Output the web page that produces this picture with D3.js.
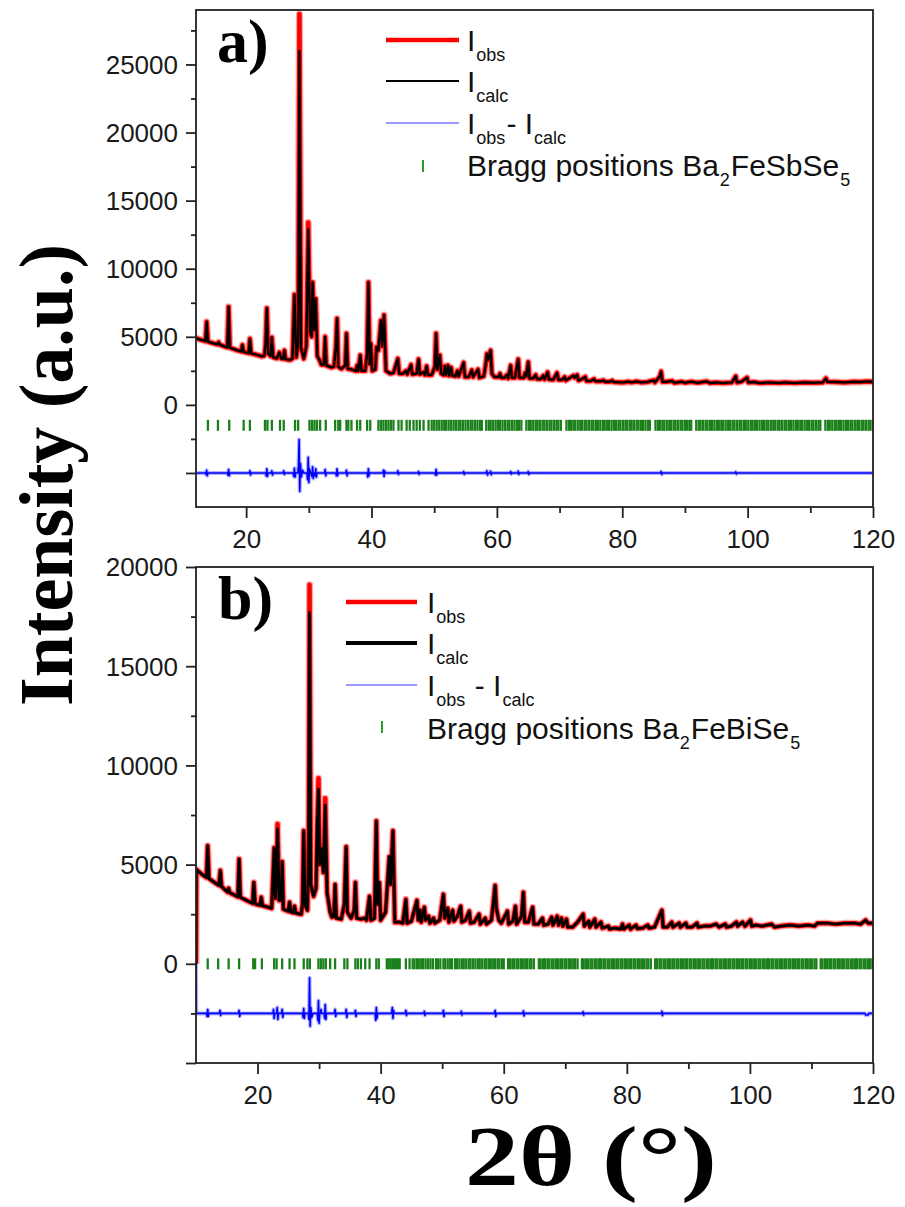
<!DOCTYPE html>
<html>
<head>
<meta charset="utf-8">
<script src="https://cdn.jsdelivr.net/npm/d3@7"></script>
<style>
  html, body { margin: 0; padding: 0; background: #fff; }
  svg text { white-space: pre; }
</style>
</head>
<body>
<div id="chart-container"></div>
<script>
// ---- panel a) Ba2FeSbSe5 : [2theta, intensity]
const obsA = [[12.0,4900],[12.8,4780],[13.5,4680],[13.7,6100],[13.9,4650],[14.8,4520],[15.4,4450],[15.6,4600],[15.8,4420],[16.6,4280],[17.0,4230],[17.2,7200],[17.4,4200],[18.5,4020],[19.2,3930],[19.4,4400],[19.6,3900],[20.4,3800],[20.6,4850],[20.8,3780],[21.5,3700],[22.5,3570],[22.9,3600],[23.1,4400],[23.3,7100],[23.5,3800],[23.9,3600],[24.1,4950],[24.3,3500],[24.9,3420],[25.3,3850],[25.6,3400],[25.9,3380],[26.1,4000],[26.3,3350],[27.0,3300],[27.4,3400],[27.7,8100],[28.0,3500],[28.3,4500],[28.5,28700],[28.75,4200],[29.2,3400],[29.6,4300],[29.9,13400],[30.2,5400],[30.45,5000],[30.6,9000],[30.85,5500],[31.1,7800],[31.35,3600],[31.8,3200],[32.0,2950],[32.4,2950],[32.6,5000],[32.8,2900],[33.6,2750],[34.0,2800],[34.3,4200],[34.5,6350],[34.7,2800],[35.2,2650],[35.8,2900],[36.0,5250],[36.2,2650],[36.8,2600],[37.5,2500],[37.7,2900],[37.9,2500],[38.2,3650],[38.4,2500],[39.0,2500],[39.3,3800],[39.5,9000],[39.7,3000],[39.9,4500],[40.1,2500],[40.6,2600],[40.8,4250],[41.1,4000],[41.5,6200],[41.7,4300],[42.0,6600],[42.3,2500],[43.0,2300],[43.5,2350],[44.2,3400],[44.4,2300],[45.0,2300],[45.5,2500],[45.7,2250],[46.3,2950],[46.5,2250],[47.2,2300],[47.5,3350],[47.7,2250],[48.3,2400],[48.5,2200],[48.8,2850],[49.0,2200],[49.6,2200],[50.1,2800],[50.3,5250],[50.5,2600],[50.9,3650],[51.1,2300],[51.5,2200],[51.7,2850],[51.9,2200],[52.2,2900],[52.4,2150],[52.7,2750],[52.9,2150],[53.4,2100],[53.7,2500],[53.9,2100],[54.7,3100],[54.9,2050],[55.5,2050],[56.0,2550],[56.2,2050],[57.0,2600],[57.2,2000],[57.9,2100],[58.2,2900],[58.4,3750],[58.6,3300],[59.0,4000],[59.2,2300],[59.6,2050],[60.3,2050],[60.5,2300],[60.7,2000],[61.2,2000],[61.6,2200],[61.8,1950],[62.2,2900],[62.4,2000],[62.9,2000],[63.4,3350],[63.6,2000],[64.3,2000],[64.5,2350],[64.7,2100],[65.0,3150],[65.2,1950],[65.8,1950],[66.2,2200],[66.4,1900],[67.0,1900],[67.4,2150],[67.6,1880],[68.1,2400],[68.3,1880],[69.0,1850],[69.6,2350],[69.8,1850],[70.4,1850],[70.8,2050],[71.0,1800],[72.2,2150],[72.4,2000],[72.8,2200],[73.0,1800],[73.6,1900],[74.1,2050],[74.3,1750],[75.0,1760],[75.5,1900],[75.7,1740],[76.5,1730],[77.0,1800],[77.2,1700],[78.0,1700],[78.4,1780],[78.6,1680],[80.0,1650],[81.0,1700],[81.5,1650],[82.3,1720],[83.0,1650],[84.0,1680],[85.0,1800],[85.2,1650],[86.0,2100],[86.2,2450],[86.4,1700],[87.0,1700],[88.0,1750],[88.3,1620],[89.5,1700],[90.0,1620],[91.0,1700],[92.0,1620],[93.5,1720],[94.0,1600],[95.0,1650],[96.0,1600],[97.5,1650],[98.1,2100],[98.3,1650],[99.0,1700],[99.9,2000],[100.1,1650],[101.0,1680],[102.0,1600],[103.5,1650],[105.0,1600],[106.0,1650],[107.5,1600],[109.0,1650],[110.5,1620],[112.0,1650],[112.5,1950],[112.7,1700],[114.0,1680],[115.5,1650],[117.0,1700],[118.0,1680],[119.0,1720],[120.0,1700]];
const calcTopsA = [[28.5,26000],[29.9,12900]];
const diffA = [[12,0],[13.5,0],[13.6,-100],[13.7,200],[13.8,-200],[13.9,0],[17.0,0],[17.1,-150],[17.2,250],[17.3,-200],[17.4,0],[20.5,0],[20.6,150],[20.7,-150],[20.8,0],[23.1,0],[23.2,-200],[23.3,300],[23.4,-250],[23.5,0],[24.0,0],[24.1,150],[24.2,-150],[24.3,0],[25.9,0],[26.0,150],[26.1,-100],[26.2,0],[27.5,0],[27.6,-250],[27.7,350],[27.8,-300],[27.9,0],[28.25,0],[28.35,500],[28.45,2450],[28.55,-1350],[28.65,700],[28.8,-300],[29.0,200],[29.2,0],[29.7,0],[29.8,-500],[29.9,1150],[30.0,-700],[30.1,300],[30.3,0],[30.5,-250],[30.6,450],[30.7,-400],[30.85,0],[31.0,-200],[31.1,300],[31.2,-300],[31.3,0],[32.5,0],[32.6,250],[32.7,-200],[32.8,0],[34.3,0],[34.4,-200],[34.5,300],[34.6,-200],[34.7,0],[35.9,0],[36.0,200],[36.1,-200],[36.2,0],[39.3,0],[39.4,-300],[39.5,300],[39.6,-200],[39.7,0],[41.8,0],[41.9,200],[42.0,-250],[42.1,150],[42.2,0],[44.1,0],[44.2,150],[44.3,-100],[44.4,0],[47.4,0],[47.5,100],[47.6,-100],[47.7,0],[50.1,0],[50.2,-150],[50.3,250],[50.4,-150],[50.5,0],[54.6,0],[54.7,100],[54.8,-100],[54.9,0],[58.3,0],[58.4,150],[58.5,-150],[58.6,0],[58.9,0],[59.0,120],[59.1,-120],[59.2,0],[62.1,0],[62.2,100],[62.3,-80],[62.4,0],[63.3,0],[63.4,120],[63.5,-100],[63.6,0],[64.9,0],[65.0,100],[65.1,-100],[65.2,0],[86.1,0],[86.2,100],[86.3,-100],[86.4,0],[98.0,0],[98.1,80],[98.2,-80],[98.3,0],[120,0]];
const diffOffsetA = -5000, braggLevelA = -1500;
const braggA = [13.9,15.5,17.3,19.6,20.6,23.0,23.4,24.1,25.4,26.0,27.8,28.3,30.1,30.5,30.9,31.3,31.8,32.7,34.2,34.7,35.0,36.0,36.3,36.8,37.7,38.2,39.3,39.8,41.1,41.5,41.9,42.3,42.7,43.1,43.5,44.3,44.8,45.6,46.1,46.7,47.2,47.7,48.3,49.1,
  49.6,50.0,50.4,50.8,51.2,51.6,51.9,52.3,52.7,53.1,53.5,53.9,54.2,54.6,55.0,55.4,55.8,56.1,56.5,56.9,57.3,57.6,58.3,58.7,59.0,59.4,59.8,60.2,60.5,60.9,61.3,61.7,62.0,62.4,62.8,63.2,63.5,63.9,
  64.7,65.1,65.4,65.8,66.2,66.5,66.9,67.3,67.6,68.0,68.4,68.7,69.1,69.5,69.8,70.2,71.1,71.5,71.8,72.2,72.5,72.9,73.3,73.6,74.0,74.3,74.7,75.1,75.4,75.8,76.1,76.5,76.9,77.2,77.6,77.9,78.3,78.7,79.0,79.4,79.7,80.1,80.5,80.8,81.2,81.5,81.9,82.3,82.6,83.0,83.3,83.7,84.1,84.4,
  85.3,85.7,86.0,86.4,86.7,87.1,87.5,87.8,88.2,88.5,88.9,89.3,89.6,90.0,90.3,90.7,91.0,91.8,92.2,92.5,92.9,93.3,93.6,94.0,94.3,94.7,95.1,95.4,95.8,96.1,96.5,96.9,97.2,97.6,97.9,98.3,98.7,99.0,99.4,99.7,
  100.1,100.5,100.8,101.2,101.5,101.9,102.3,102.6,103.0,103.3,103.7,104.1,104.4,104.8,105.1,105.5,105.9,106.2,106.6,106.9,107.3,107.7,108.0,108.4,108.7,109.1,109.5,109.8,110.2,110.5,110.9,111.3,111.6,
  112.4,112.8,113.1,113.5,113.9,114.2,114.6,114.9,115.3,115.7,116.0,116.4,116.7,117.1,117.5,117.8,118.2,118.5,118.9,119.3,119.6,120.0];
const yMajorA = [-5000,0,5000,10000,15000,20000,25000];
const yLabelsA = [0,5000,10000,15000,20000,25000];
const phaseA = ["Ba", "2", "FeSbSe", "5"];

// ---- panel b) Ba2FeBiSe5
const obsB = [[10.0,0],[10.05,4750],[11.0,4500],[11.7,4350],[11.9,5950],[12.1,4300],[13.0,4100],[13.75,3950],[13.95,4700],[14.15,3900],[15.1,3620],[15.3,3800],[15.5,3580],[16.8,3380],[17.0,5280],[17.2,3350],[18.5,3150],[19.2,3050],[19.4,4100],[19.6,3020],[20.4,2950],[20.6,3350],[20.8,2930],[22.3,2800],[22.6,5000],[22.7,5850],[22.9,3300],[23.1,4500],[23.25,7050],[23.5,3200],[23.8,3200],[24.0,5150],[24.2,2750],[25.0,2650],[25.2,3100],[25.4,2620],[25.8,2580],[26.0,2900],[26.2,2560],[27.1,2500],[27.3,3000],[27.5,6700],[27.7,3000],[28.1,2700],[28.3,5500],[28.45,19100],[28.65,4000],[29.1,3400],[29.5,3800],[29.7,7000],[29.9,9350],[30.1,5000],[30.4,5800],[30.7,4600],[31.0,8350],[31.3,3600],[31.8,2600],[32.1,2350],[32.4,2400],[32.6,4000],[32.8,2300],[33.6,2250],[34.1,3000],[34.4,5900],[34.6,2600],[35.2,2300],[35.7,2700],[35.9,4100],[36.1,2300],[36.8,2250],[37.4,2300],[37.7,2200],[38.2,3400],[38.4,2200],[39.0,2300],[39.3,7200],[39.5,3000],[39.8,4100],[40.0,2200],[40.8,2600],[41.4,5400],[41.6,4000],[42.0,6700],[42.3,2100],[43.0,2100],[43.6,2050],[44.1,3250],[44.3,2050],[45.0,2150],[45.9,3200],[46.1,2200],[46.4,2700],[46.6,2100],[47.1,2850],[47.3,2200],[47.8,2400],[48.0,2050],[48.6,2300],[48.8,2050],[49.6,2200],[50.2,3500],[50.4,2300],[50.9,2800],[51.1,2100],[51.7,2700],[51.9,2150],[52.5,2400],[53.0,2900],[53.2,2100],[53.8,2200],[54.4,2650],[54.6,2050],[55.2,2100],[56.0,2500],[56.2,2000],[57.0,2300],[57.2,2000],[58.0,2200],[58.3,3000],[58.6,3950],[58.8,2800],[59.2,2200],[59.6,2050],[60.6,2650],[60.8,2000],[61.5,2150],[61.9,2900],[62.1,2000],[62.9,2400],[63.2,3600],[63.4,2100],[64.0,2100],[64.7,2850],[64.9,2000],[65.6,2000],[66.3,2300],[66.5,1950],[67.2,2000],[67.8,2350],[68.0,1950],[68.7,2400],[68.9,1950],[69.4,2300],[69.6,1900],[70.2,2250],[70.4,1850],[71.2,1850],[72.0,2100],[72.9,2500],[73.1,1900],[73.8,2150],[74.0,1850],[74.8,2250],[75.0,1850],[75.8,2100],[76.0,1800],[77.0,1900],[77.2,1750],[78.0,1800],[79.0,1750],[79.3,2000],[79.5,1750],[80.4,1950],[80.6,1750],[81.5,1950],[81.7,1780],[82.6,1800],[83.4,1950],[83.6,1800],[84.5,1850],[85.7,2700],[85.9,1850],[86.6,1850],[87.3,2100],[87.5,1850],[88.5,2050],[88.7,1850],[89.6,2050],[89.8,1850],[90.6,1850],[91.4,2050],[91.6,1850],[92.5,1900],[93.5,1900],[94.5,2000],[95.0,1850],[96.0,2000],[96.2,1850],[97.0,1900],[97.8,2100],[98.0,1900],[98.8,2100],[99.2,1900],[100.1,2200],[100.3,1900],[101.0,1950],[102.0,1900],[103.5,2000],[104.0,1850],[105.0,1900],[106.5,1950],[108.0,1900],[109.5,1950],[110.5,1900],[111.0,2050],[112.5,2050],[114.0,2000],[115.5,2050],[117.0,2050],[118.0,2000],[118.8,2200],[119.2,2050],[120.0,2050]];
const calcTopsB = [[28.45,17700],[29.9,8800],[31.0,8000],[23.25,6800]];
const diffB = [[10,2500],[10.05,0],[11.7,0],[11.8,-150],[11.9,200],[12.0,-150],[12.1,0],[13.8,0],[13.9,150],[14.0,-100],[14.1,0],[16.9,0],[17.0,150],[17.1,-150],[17.2,0],[22.5,0],[22.6,200],[22.7,-250],[22.8,0],[23.1,0],[23.2,300],[23.3,-300],[23.4,0],[23.9,0],[24.0,200],[24.1,-200],[24.2,0],[27.3,0],[27.4,-200],[27.5,250],[27.6,-250],[27.7,0],[28.25,0],[28.35,-300],[28.45,1800],[28.55,-650],[28.65,300],[28.8,-200],[29.0,0],[29.7,0],[29.8,-350],[29.9,650],[30.0,-500],[30.1,0],[30.2,0],[30.3,200],[30.4,0],[30.8,0],[30.9,-250],[31.0,450],[31.1,-300],[31.2,0],[32.5,0],[32.6,200],[32.7,-150],[32.8,0],[34.3,0],[34.4,200],[34.5,-200],[34.6,0],[35.8,0],[35.9,150],[36.0,-150],[36.1,0],[39.1,0],[39.2,-350],[39.3,300],[39.4,-250],[39.5,0],[41.8,0],[41.9,300],[42.0,-250],[42.1,150],[42.2,0],[44.0,0],[44.1,150],[44.2,-100],[44.3,0],[47.0,0],[47.1,100],[47.2,-100],[47.3,0],[50.1,0],[50.2,150],[50.3,-150],[50.4,0],[53.0,0],[53.1,100],[53.2,-80],[53.3,0],[58.5,0],[58.6,150],[58.7,-150],[58.8,0],[63.1,0],[63.2,120],[63.3,-120],[63.4,0],[72.8,0],[72.9,80],[73.0,-80],[73.1,0],[85.6,0],[85.7,100],[85.8,-100],[85.9,0],[118.7,0],[118.8,-80],[119.2,-80],[119.3,0],[120,0]];
const diffOffsetB = -2500, braggLevelB = 0;
const braggB = [11.9,13.6,15.3,17.0,19.3,19.6,20.7,22.7,23.1,24.0,25.2,26.0,27.5,28.1,28.5,29.9,30.3,30.7,31.1,31.8,32.6,34.1,34.6,35.9,36.3,36.8,37.5,38.2,39.3,39.7,41.0,41.3,41.6,41.9,42.2,42.5,42.8,43.1,44.1,44.7,45.2,45.5,45.9,46.2,46.6,46.9,47.3,47.7,
  48.1,48.5,49.0,49.3,49.7,50.2,50.5,50.9,51.3,51.6,52.1,52.4,52.8,53.2,53.5,53.9,54.3,54.6,55.0,55.4,55.8,56.1,56.5,56.9,57.2,57.6,57.9,
  58.3,58.6,59.0,59.3,59.7,60.0,60.7,61.0,61.4,61.7,62.1,62.4,62.8,63.1,63.5,63.8,64.2,64.5,64.9,65.7,66.0,66.4,66.7,67.1,67.4,67.8,68.1,68.5,68.8,69.2,69.5,69.9,70.2,70.6,70.9,71.3,71.6,72.0,
  72.7,73.0,73.4,73.7,74.1,74.4,74.8,75.1,75.5,75.8,76.2,76.5,76.9,77.2,77.6,77.9,78.3,78.6,79.0,79.3,79.7,80.0,80.4,80.7,81.1,81.4,81.8,82.1,82.5,82.8,83.2,83.5,83.9,
  84.6,84.9,85.3,85.6,86.0,86.3,86.7,87.0,87.4,87.7,88.1,88.4,88.8,89.1,89.5,89.8,90.2,90.5,90.9,91.2,91.6,91.9,92.3,92.6,93.0,93.3,93.7,94.0,94.4,94.7,95.1,95.4,95.8,96.1,96.5,96.8,97.2,97.5,97.9,98.2,98.6,98.9,99.3,99.6,
  100.0,100.3,100.7,101.0,101.4,101.7,102.1,102.4,102.8,103.1,103.5,103.8,104.2,104.5,104.9,105.2,105.6,105.9,106.3,106.6,107.0,107.3,107.7,108.0,108.4,108.7,109.1,109.4,109.8,110.1,110.5,110.8,
  111.5,111.8,112.2,112.5,112.9,113.2,113.6,113.9,114.3,114.6,115.0,115.3,115.7,116.0,116.4,116.7,117.1,117.4,117.8,118.1,118.5,118.8,119.2,119.5,119.9];
const yMajorB = [-5000,0,5000,10000,15000,20000];
const yLabelsB = [0,5000,10000,15000,20000];
const phaseB = ["Ba", "2", "FeBiSe", "5"];

const xTicks = [20,40,60,80,100,120];

let W = 905, H = 1207,
    svg = d3.select("#chart-container").append("svg").attr("width", W).attr("height", H),
    sans = "'Liberation Sans', Arial, sans-serif",
    serif = "'Liberation Serif', 'Times New Roman', serif";

svg.append("rect").attr("width", W).attr("height", H).attr("fill", "#fff");

let panels = [
  { id: "a", obs: obsA, calcTops: calcTopsA, diff: diffA, diffOffset: diffOffsetA, bragg: braggA, braggLevel: braggLevelA,
    yMajor: yMajorA, yLabels: yLabelsA, phase: phaseA, xDomain: [12, 120], yDomain: [-7500, 29000],
    box: { left: 196, right: 873, top: 10, bottom: 507 }, calcWidth: 2.3,
    legend: { x0: 386, x1: 459, tx: 467, ys: [40, 81, 123], bragg: 166, braggX: 423, braggText: 176, dash: "- I", label: [217, 62], calcLegend: 2.2 } },
  { id: "b", obs: obsB, calcTops: calcTopsB, diff: diffB, diffOffset: diffOffsetB, bragg: braggB, braggLevel: braggLevelB,
    yMajor: yMajorB, yLabels: yLabelsB, phase: phaseB, xDomain: [10, 120], yDomain: [-5000, 20000],
    box: { left: 196, right: 873, top: 567, bottom: 1063 }, calcWidth: 2.8,
    legend: { x0: 346, x1: 417, tx: 427, ys: [602, 643, 685], bragg: 727, braggX: 382, braggText: 739, dash: " - I", label: [218, 619], calcLegend: 4 } }
];

panels.forEach(drawPanel);

// axis titles
svg.append("text")
  .attr("transform", "translate(72,475)rotate(-90)")
  .attr("text-anchor", "middle")
  .attr("font-family", serif).attr("font-weight", "bold").attr("font-size", 76)
  .attr("textLength", 462).attr("lengthAdjust", "spacingAndGlyphs")
  .attr("fill", "#000")
  .text("Intensity (a.u.)");

svg.append("text")
  .attr("x", 591).attr("y", 1185)
  .attr("text-anchor", "middle")
  .attr("font-family", serif).attr("font-weight", "bold").attr("font-size", 84)
  .attr("textLength", 252).attr("lengthAdjust", "spacingAndGlyphs")
  .attr("fill", "#000")
  .text("2θ (°)");

function drawPanel(p) {
  let b = p.box,
      x = d3.scaleLinear().domain(p.xDomain).range([b.left, b.right]),
      y = d3.scaleLinear().domain(p.yDomain).range([b.bottom, b.top]),
      g = svg.append("g"),
      clipId = "clip-" + p.id;

  g.append("clipPath").attr("id", clipId)
    .append("rect").attr("x", b.left).attr("y", b.top).attr("width", b.right - b.left).attr("height", b.bottom - b.top);

  let line = d3.line().x(d => x(d[0])).y(d => y(d[1]));
  let calc = p.obs.map(([t, v]) => {
    let o = p.calcTops.find(c => c[0] === t);
    return [t, o ? o[1] : v];
  });
  let diff = p.diff.map(([t, v]) => [t, v + p.diffOffset]);

  let plot = g.append("g").attr("clip-path", `url(#${clipId})`);

  // soft halo, then the observed curve (red), calculated (black) on top
  plot.append("path").datum(p.obs)
    .attr("fill", "none").attr("stroke", "#ff0000").attr("stroke-opacity", 0.35).attr("stroke-width", 7)
    .attr("stroke-linejoin", "round").attr("d", line);
  plot.append("path").datum(p.obs)
    .attr("fill", "none").attr("stroke", "#ff0000").attr("stroke-width", 4.5)
    .attr("stroke-linejoin", "round").attr("d", line);

  plot.append("path").datum(calc)
    .attr("fill", "none").attr("stroke", "#000").attr("stroke-width", p.calcWidth)
    .attr("stroke-linejoin", "round").attr("d", line);

  plot.append("g").selectAll("line").data(p.bragg).join("line")
    .attr("x1", d => x(d)).attr("x2", d => x(d))
    .attr("y1", y(p.braggLevel) - 5.5).attr("y2", y(p.braggLevel) + 5.5)
    .attr("stroke", "#1b801b").attr("stroke-width", 2.3);

  plot.append("path").datum(diff)
    .attr("fill", "none").attr("stroke", "#0000ff").attr("stroke-opacity", 0.3).attr("stroke-width", 4)
    .attr("stroke-linejoin", "round").attr("d", line);
  plot.append("path").datum(diff)
    .attr("fill", "none").attr("stroke", "#0000ff").attr("stroke-width", 1.6)
    .attr("stroke-linejoin", "round").attr("d", line);

  // axes: major + minor ticks, outward
  let minorX = xTicks.map(v => v - 10).filter(v => v > p.xDomain[0]),
      minorY = p.yMajor.map(v => v + 2500).concat(p.yMajor.map(v => v - 2500))
        .filter((v, i, a) => a.indexOf(v) === i && !p.yMajor.includes(v) && v > p.yDomain[0] && v < p.yDomain[1]);

  g.append("g").attr("transform", `translate(0,${b.bottom})`)
    .call(d3.axisBottom(x).tickValues(xTicks).tickSize(11).tickPadding(12).tickFormat(d3.format("d")));
  g.append("g").attr("transform", `translate(0,${b.bottom})`)
    .call(d3.axisBottom(x).tickValues(minorX).tickSize(6).tickFormat(""));

  let yAxis = g.append("g").attr("transform", `translate(${b.left},0)`)
    .call(d3.axisLeft(y).tickValues(p.yMajor).tickSize(10).tickPadding(8)
      .tickFormat(d => p.yLabels.includes(d) ? d3.format("d")(d) : ""));
  g.append("g").attr("transform", `translate(${b.left},0)`)
    .call(d3.axisLeft(y).tickValues(minorY).tickSize(5).tickFormat(""));

  g.selectAll(".domain").remove();
  g.selectAll(".tick line").attr("stroke", "#222").attr("stroke-width", 1.8);
  g.selectAll(".tick text").attr("font-family", sans).attr("font-size", 26).attr("fill", "#1a1a1a");
  yAxis.selectAll(".tick text").attr("dy", "0.34em");

  g.append("rect")
    .attr("x", b.left).attr("y", b.top).attr("width", b.right - b.left).attr("height", b.bottom - b.top)
    .attr("fill", "none").attr("stroke", "#222").attr("stroke-width", 1.8);

  // panel label
  g.append("text").attr("x", p.legend.label[0]).attr("y", p.legend.label[1])
    .attr("font-family", serif).attr("font-weight", "bold").attr("font-size", 62)
    .text(p.id + ")");

  // legend
  let L = p.legend,
      styles = [["#ff0000", 4.5], ["#000", L.calcLegend], ["#7777ff", 1.3]],
      labels = [[["I", 0], ["obs", 1]], [["I", 0], ["calc", 1]], [["I", 0], ["obs", 1], [L.dash, 0], ["calc", 1]]];

  L.ys.forEach((ly, i) => {
    g.append("line").attr("x1", L.x0).attr("x2", L.x1).attr("y1", ly).attr("y2", ly)
      .attr("stroke", styles[i][0]).attr("stroke-width", styles[i][1]);
    drawLabel(g, L.tx, ly + 11, labels[i]);
  });

  g.append("line").attr("x1", L.braggX).attr("x2", L.braggX).attr("y1", L.bragg - 6).attr("y2", L.bragg + 6)
    .attr("stroke", "#2a9a2a").attr("stroke-width", 2);
  drawLabel(g, L.tx, L.braggText, [["Bragg positions " + p.phase[0], 0], [p.phase[1], 1], [p.phase[2], 0], [p.phase[3], 1]]);
}

// label made of separate runs: normal text and subscripts, placed one after another
function drawLabel(g, tx, ty, parts) {
  let cx = tx;
  parts.forEach(([s, sub]) => {
    let t = g.append("text").attr("x", cx).attr("y", ty + (sub ? 10 : 0))
      .attr("font-family", sans).attr("font-size", sub ? 18 : 30).attr("fill", "#111")
      .text(s);
    cx += t.node().getComputedTextLength() + 1;
  });
}
</script>
</body>
</html>
